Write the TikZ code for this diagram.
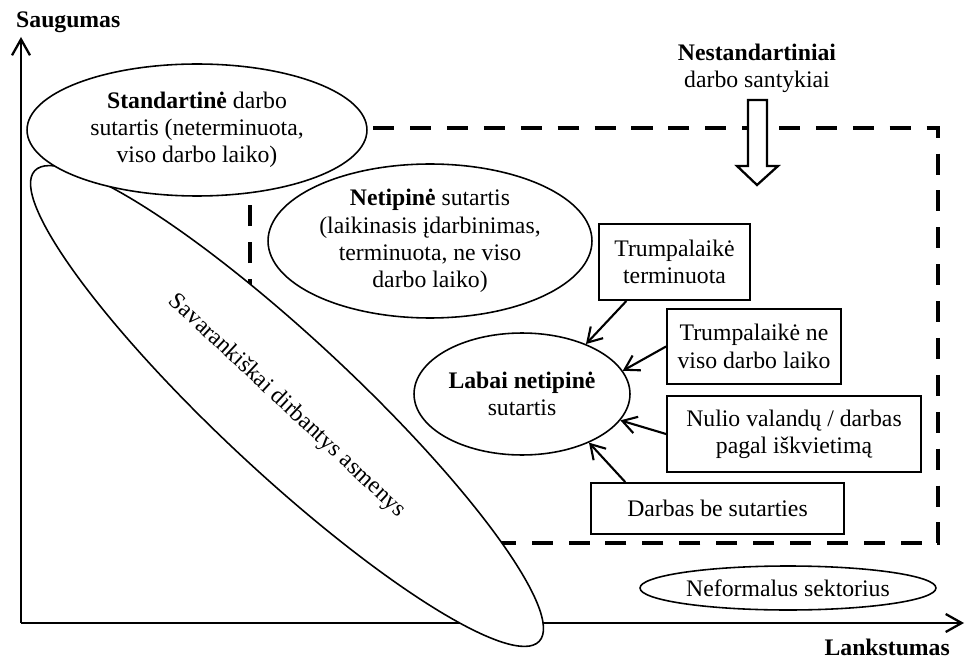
\documentclass[tikz,border=0pt]{standalone}
\usepackage{fontspec}
\setmainfont{Liberation Serif}
\usetikzlibrary{shapes.geometric,arrows.meta}
\tikzset{oval/.style={draw, ellipse, fill=white, line width=0.9pt, inner sep=0pt, align=center}}
\tikzset{tbox/.style={draw, rectangle, fill=white, line width=1.1pt, inner sep=0pt, align=center}}
\tikzset{tarrow/.style={-{Straight Barb[length=2.8mm,width=3.4mm]}, line width=1.2pt}}
\tikzset{axisarrow/.style={-{Straight Barb[length=3.2mm,width=3.6mm]}, line width=1.3pt}}
\tikzset{frameline/.style={line width=2.8pt, dash pattern=on 12pt off 9pt}}
\tikzset{hollow/.style={line width=1.3pt, fill=white}}

\begin{document}
\begin{tikzpicture}[x=0.02cm, y=-0.02cm, font=\fontsize{13.5}{15.5}\selectfont]
\useasboundingbox (0,0) rectangle (966,658);
\coordinate (o) at (21,623);
\coordinate (ytop) at (21,37);
\coordinate (xend) at (964,623);
\draw[axisarrow] (o) -- (ytop);
\draw[axisarrow] (o) -- (xend);
\node[anchor=base west] (saug) at (10,28) {\textbf{Saugumas}};
\node[anchor=base east] (lank) at (956,655) {\textbf{Lankstumas}};
\draw[frameline] (250,300) -- (250,128) -- (938,128) -- (938,543) -- (500,543);
\node[oval, rotate=-43, minimum width=13.8cm, minimum height=2.7cm] (sav) at (287,406) {Savarankiškai dirbantys asmenys};
\node[oval, minimum width=6.8cm, minimum height=2.64cm] (std) at (197,130) {\textbf{Standartinė} darbo\\sutartis (neterminuota,\\viso darbo laiko)};
\node[oval, minimum width=6.48cm, minimum height=3.08cm] (net) at (430,241) {\textbf{Netipinė} sutartis\\(laikinasis įdarbinimas,\\terminuota, ne viso\\darbo laiko)};
\node[oval, minimum width=4.32cm, minimum height=2.44cm] (labai) at (522,394) {\textbf{Labai netipinė}\\sutartis};
\node[oval, minimum width=5.92cm, minimum height=0.88cm] (neform) at (788,588) {Neformalus sektorius};
\node[tbox, minimum width=3.02cm, minimum height=1.52cm] (b1) at (674.5,262) {Trumpalaikė\\terminuota};
\node[tbox, minimum width=3.48cm, minimum height=1.5cm] (b2) at (754,346.5) {Trumpalaikė ne\\viso darbo laiko};
\node[tbox, minimum width=5.08cm, minimum height=1.52cm] (b3) at (794,434) {Nulio valandų / darbas\\pagal iškvietimą};
\node[tbox, minimum width=5.06cm, minimum height=1.02cm] (b4) at (717.5,508.5) {Darbas be sutarties};
\draw[tarrow] (b1.219) -- (labai.38);
\draw[tarrow] (b2.west) -- (labai.13);
\draw[tarrow] (b3.west) -- (labai.-15);
\draw[tarrow] (b4.164) -- (labai.-36);
\node[align=center] (nest) at (757,68) {\textbf{Nestandartiniai}\\darbo santykiai};
\draw[hollow] (748,100) -- (767,100) -- (767,166) -- (778,166) -- (757,185) -- (737,166) -- (748,166) -- cycle;
\end{tikzpicture}
\end{document}
